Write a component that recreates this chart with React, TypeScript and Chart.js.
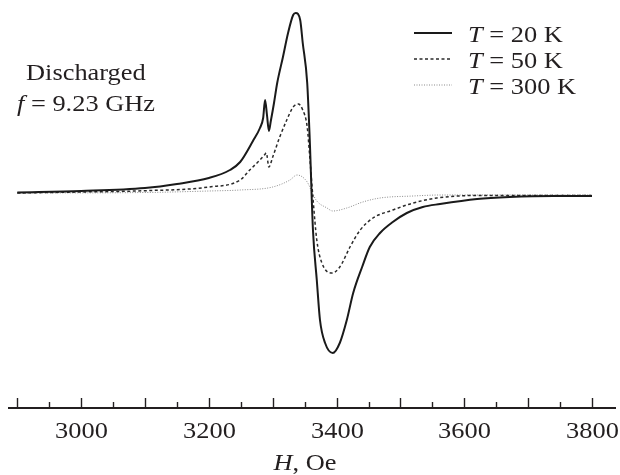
import React, { useEffect, useRef } from "react";
import { Chart, registerables } from "chart.js";

Chart.register(...registerables);

// ---- data (field H in Oe, EPR signal in arbitrary units) ----
const fieldT20 = [2900, 3000, 3100, 3150, 3200, 3233, 3249, 3269, 3280, 3285, 3288, 3291, 3294, 3297, 3302, 3307, 3316, 3324, 3332, 3336, 3343, 3347, 3354, 3358, 3363, 3369, 3374, 3382, 3394, 3405, 3416, 3426, 3440, 3452, 3468, 3488, 3510, 3535, 3562, 3620, 3671, 3740, 3800];
const signalT20 = [0.5, 2, 5, 9, 15, 23, 31, 52, 65, 75, 93, 78, 62, 72, 90, 110, 136, 160, 178, 180, 173, 150, 110, 53, -37, -87, -127, -150, -160, -150, -127, -100, -74, -54, -40, -29, -20, -14, -11, -6, -4, -3, -3];

const fieldT50 = [2900, 3000, 3100, 3200, 3249, 3264, 3280, 3287, 3290, 3294, 3300, 3311, 3322, 3332, 3340, 3347, 3354, 3358, 3363, 3369, 3377, 3393, 3405, 3421, 3437, 3457, 3488, 3520, 3557, 3620, 3700, 3800];
const signalT50 = [0, 1, 2.3, 6, 13, 23, 33, 38, 40, 26, 36, 56, 73, 86, 89, 83, 66, 36, -5, -47, -70, -80, -74, -54, -37, -25, -17, -10, -5, -2.5, -2.5, -2.5];

const fieldT300 = [2900, 3100, 3200, 3249, 3300, 3327, 3338, 3354, 3362, 3369, 3385, 3394, 3416, 3441, 3468, 3520, 3562, 3650, 3800];
const signalT300 = [0, 0.5, 2, 3, 6, 13, 18, 11, 0, -8, -15, -18, -15, -9, -5, -3, -2, -2, -2];

const seriesLabels = ["T = 20 K", "T = 50 K", "T = 300 K"];
const sampleName = "Discharged";
const frequencyLabel = "f = 9.23 GHz";
const axisTitle = "H, Oe";

const axisMin = 2887;
const axisMax = 3836;
const yMin = -215;
const yMax = 193;
const minorTickStep = 50;
const majorTickStep = 100;
const labelStep = 200;

// ---- styling ----
const FONT = '"Liberation Serif", "Times New Roman", serif';
const SX = 1.1;
const TEXT = "#231f20";
const FS = 24;

type Run = { text: string; italic?: boolean };

function setFont(ctx: CanvasRenderingContext2D, italic: boolean | undefined, size: number) {
  ctx.font = `${italic ? "italic " : ""}${size}px ${FONT}`;
}

function runsWidth(ctx: CanvasRenderingContext2D, runs: Run[], size: number) {
  let w = 0;
  for (const r of runs) {
    setFont(ctx, r.italic, size);
    w += ctx.measureText(r.text).width;
  }
  return w * SX;
}

function drawRuns(
  ctx: CanvasRenderingContext2D,
  runs: Run[],
  x: number,
  y: number,
  size: number,
  align: "left" | "center"
) {
  const w = runsWidth(ctx, runs, size);
  const sx = align === "center" ? x - w / 2 : x;
  ctx.save();
  ctx.translate(sx, y);
  ctx.scale(SX, 1);
  ctx.textAlign = "left";
  ctx.textBaseline = "alphabetic";
  ctx.fillStyle = TEXT;
  let off = 0;
  for (const r of runs) {
    setFont(ctx, r.italic, size);
    ctx.fillText(r.text, off, 0);
    off += ctx.measureText(r.text).width;
  }
  ctx.restore();
}

function italicFirst(label: string): Run[] {
  return [
    { text: label.slice(0, 1), italic: true },
    { text: label.slice(1) },
  ];
}

const decorPlugin = {
  id: "decor",
  afterDraw(chart: any) {
    const ctx: CanvasRenderingContext2D = chart.ctx;
    const xs = chart.scales.x;
    const axisY = xs.top;

    // tick marks (pointing up, into the plot) and labels
    ctx.save();
    ctx.strokeStyle = TEXT;
    ctx.lineWidth = 1.4;
    const first = Math.ceil(axisMin / minorTickStep) * minorTickStep;
    for (let v = first; v <= axisMax; v += minorTickStep) {
      const px = Math.round(xs.getPixelForValue(v)) + 0.5;
      const major = v % majorTickStep === 0;
      const len = major ? 10 : 6;
      ctx.beginPath();
      ctx.moveTo(px, axisY);
      ctx.lineTo(px, axisY - len);
      ctx.stroke();
      if (v % labelStep === 0) {
        drawRuns(ctx, [{ text: String(v) }], px, axisY + 30, FS, "center");
      }
    }
    ctx.restore();

    // axis title
    drawRuns(ctx, italicFirst(axisTitle), (xs.left + xs.right) / 2 - 7, axisY + 62, FS, "center");

    // annotation
    drawRuns(ctx, [{ text: sampleName }], 26, 80, FS, "left");
    drawRuns(ctx, italicFirst(frequencyLabel), 17, 111, FS, "left");

    // legend
    const ds = chart.data.datasets;
    const baselines = [42, 68, 94];
    ds.forEach((d: any, i: number) => {
      const by = baselines[i];
      ctx.save();
      ctx.strokeStyle = d.borderColor;
      ctx.lineWidth = d.borderWidth;
      ctx.setLineDash(d.borderDash || []);
      ctx.beginPath();
      ctx.moveTo(414, by - 9);
      ctx.lineTo(452, by - 9);
      ctx.stroke();
      ctx.restore();
      drawRuns(ctx, italicFirst(d.label), 468, by, FS, "left");
    });
  },
};

function toPoints(xs: number[], ys: number[]) {
  return xs.map((x, i) => ({ x, y: ys[i] }));
}

export default function App() {
  const canvasRef = useRef<HTMLCanvasElement | null>(null);

  useEffect(() => {
    if (!canvasRef.current) return;
    const chart = new Chart(canvasRef.current, {
      type: "line",
      data: {
        datasets: [
          {
            label: seriesLabels[0],
            data: toPoints(fieldT20, signalT20),
            borderColor: "#1a1a1a",
            borderWidth: 2,
            borderDash: [],
          },
          {
            label: seriesLabels[1],
            data: toPoints(fieldT50, signalT50),
            borderColor: "#2a2a2a",
            borderWidth: 1.5,
            borderDash: [3, 2.5],
          },
          {
            label: seriesLabels[2],
            data: toPoints(fieldT300, signalT300),
            borderColor: "#8a8a8a",
            borderWidth: 1,
            borderDash: [1, 1.5],
          },
        ],
      },
      options: {
        animation: false,
        responsive: true,
        maintainAspectRatio: false,
        layout: { padding: { left: 9, right: 5, top: 0, bottom: 0 } },
        elements: {
          point: { radius: 0 },
          line: { cubicInterpolationMode: "monotone", fill: false },
        },
        plugins: {
          legend: { display: false },
          tooltip: { enabled: false },
          title: { display: false },
        },
        scales: {
          x: {
            type: "linear",
            min: axisMin,
            max: axisMax,
            grid: { display: false, drawTicks: false },
            border: { display: true, color: TEXT, width: 2 },
            ticks: { display: false, stepSize: minorTickStep },
            afterFit: (axis: any) => {
              axis.height = 67;
            },
          },
          y: {
            display: false,
            min: yMin,
            max: yMax,
          },
        },
      } as any,
      plugins: [decorPlugin],
    });
    return () => chart.destroy();
  }, []);

  return (
    <div style={{ position: "fixed", left: 0, top: 0, width: 620, height: 475, background: "#fff" }}>
      <canvas ref={canvasRef} />
    </div>
  );
}
